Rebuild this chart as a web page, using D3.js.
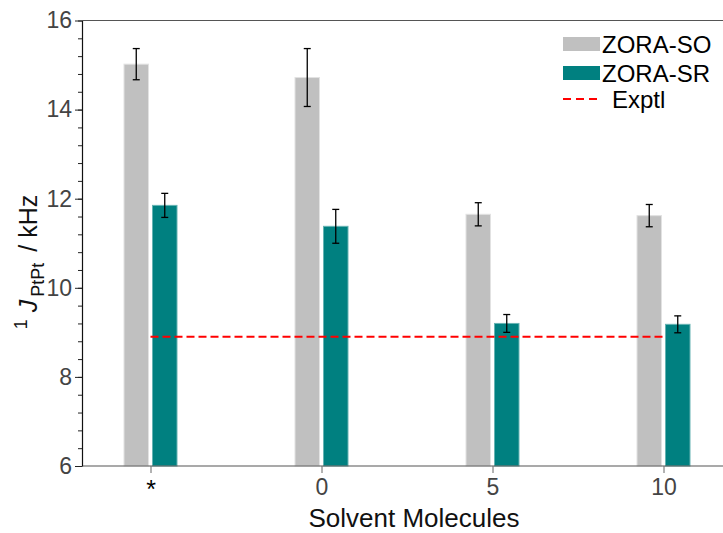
<!DOCTYPE html>
<html>
<head>
<meta charset="utf-8">
<script src="https://cdn.jsdelivr.net/npm/d3@7"></script>
<style>
  body { margin: 0; background: #fff; }
  text { font-family: "Liberation Sans", Arial, sans-serif; }
</style>
</head>
<body>
<div id="chart-area"></div>
<script>
var categories = ["*", "0", "5", "10"];
var series = ["ZORA-SO", "ZORA-SR"];
var soValues = [15.02, 14.72, 11.65, 11.62];
var soErrors = [0.35, 0.65, 0.26, 0.25];
var srValues = [11.85, 11.38, 9.20, 9.18];
var srErrors = [0.27, 0.38, 0.20, 0.19];
var exptl = 8.90;
var yMajor = [6, 8, 10, 12, 14, 16];

var colors = {"ZORA-SO": "#c0c0c0", "ZORA-SR": "#008080"};
var strokes = {"ZORA-SO": "#e2e2e2", "ZORA-SR": "#66b3b3"};

var W = 723, H = 533;
var plotLeft = 82, plotTop = 20.5, plotBottom = 466, plotRight = 723;

var svg = d3.select("#chart-area").append("svg")
    .attr("width", W).attr("height", H);

var x = d3.scalePoint().domain(categories).range([150.5, 663.5]);
var xs = d3.scaleBand().domain(series).range([-26.5, 26.5]).paddingInner(0.14);
var y = d3.scaleLinear().domain([6, 16]).range([plotBottom, plotTop]);

var data = [];
categories.forEach(function(c, i){
    data.push({cat: c, s: "ZORA-SO", v: soValues[i], e: soErrors[i]});
    data.push({cat: c, s: "ZORA-SR", v: srValues[i], e: srErrors[i]});
});

// bars
svg.selectAll("rect.bar").data(data).enter().append("rect")
    .attr("class", "bar")
    .attr("x", function(d){ return x(d.cat) + xs(d.s); })
    .attr("width", xs.bandwidth())
    .attr("y", function(d){ return y(d.v); })
    .attr("height", function(d){ return plotBottom - y(d.v); })
    .attr("fill", function(d){ return colors[d.s]; })
    .attr("stroke", function(d){ return strokes[d.s]; })
    .attr("stroke-width", 1);

// error bars
var eb = svg.selectAll("g.err").data(data).enter().append("g")
    .attr("class", "err")
    .attr("transform", function(d){ return "translate(" + (x(d.cat) + xs(d.s) + xs.bandwidth() / 2) + ",0)"; });
eb.append("line")
    .attr("y1", function(d){ return y(d.v + d.e); })
    .attr("y2", function(d){ return y(d.v - d.e); })
    .attr("stroke", "#000").attr("stroke-width", 1.3);
eb.append("line")
    .attr("x1", -3.5).attr("x2", 3.5)
    .attr("y1", function(d){ return y(d.v + d.e); })
    .attr("y2", function(d){ return y(d.v + d.e); })
    .attr("stroke", "#000").attr("stroke-width", 1.3);
eb.append("line")
    .attr("x1", -3.5).attr("x2", 3.5)
    .attr("y1", function(d){ return y(d.v - d.e); })
    .attr("y2", function(d){ return y(d.v - d.e); })
    .attr("stroke", "#000").attr("stroke-width", 1.3);

// experimental line
svg.append("line")
    .attr("x1", x(categories[0])).attr("x2", x(categories[categories.length - 1]))
    .attr("y1", y(exptl)).attr("y2", y(exptl))
    .attr("stroke", "#ff0000").attr("stroke-width", 2)
    .attr("stroke-dasharray", "8,4");

// frame lines
svg.append("line").attr("x1", plotLeft).attr("x2", plotRight).attr("y1", plotTop).attr("y2", plotTop)
    .attr("stroke", "#555").attr("stroke-width", 1.2);
svg.append("line").attr("x1", plotLeft).attr("x2", plotRight).attr("y1", plotBottom).attr("y2", plotBottom)
    .attr("stroke", "#555").attr("stroke-width", 1.2);

// y axis
var minor = d3.range(0, 26).map(function(i){ return 6 + i * 0.4; });
var yMinorAxis = svg.append("g").attr("transform", "translate(" + plotLeft + ",0)")
    .call(d3.axisLeft(y).tickValues(minor).tickSize(4).tickFormat(""));
yMinorAxis.select(".domain").remove();
yMinorAxis.selectAll("line").attr("stroke", "#222");

var yAxis = svg.append("g").attr("transform", "translate(" + plotLeft + ",0)")
    .call(d3.axisLeft(y).tickValues(yMajor).tickSize(7).tickSizeOuter(0).tickPadding(3));
yAxis.select(".domain").attr("stroke", "#111").attr("stroke-width", 1.2);
yAxis.selectAll("line").attr("stroke", "#222");
yAxis.selectAll("text").attr("font-size", "23px").attr("fill", "#444")
    .attr("font-family", "Liberation Sans, Arial, sans-serif");

// x axis
var xAxis = svg.append("g").attr("transform", "translate(0," + plotBottom + ")")
    .call(d3.axisBottom(x).tickSize(7).tickSizeOuter(0).tickPadding(6));
xAxis.select(".domain").remove();
xAxis.selectAll("line").attr("stroke", "#666");
xAxis.selectAll("text").attr("font-size", "23px").attr("fill", "#444")
    .attr("font-family", "Liberation Sans, Arial, sans-serif")
    .filter(function(d){ return d === "*"; })
    .attr("fill", "#000").attr("font-size", "25px").attr("dy", "0.75em");

// axis titles
svg.append("text")
    .attr("x", 414).attr("y", 527)
    .attr("text-anchor", "middle")
    .attr("font-size", "26px")
    .attr("fill", "#111")
    .text("Solvent Molecules");

var yt = svg.append("text")
    .attr("transform", "translate(37,262) rotate(-90)")
    .attr("text-anchor", "middle")
    .attr("font-size", "25px")
    .attr("fill", "#111");
yt.append("tspan").attr("font-size", "18px").attr("dy", "-10").text("1");
yt.append("tspan").attr("font-style", "italic").attr("dy", "10").attr("dx", "7").text("J");
yt.append("tspan").attr("font-size", "18px").attr("dy", "7").attr("dx", "3").text("PtPt");
yt.append("tspan").attr("dy", "-7").attr("dx", "4").text(" / kHz");

// legend
var legend = svg.append("g");
series.forEach(function(s, i){
    legend.append("rect")
        .attr("x", 563).attr("y", 37 + i * 29)
        .attr("width", 37).attr("height", 14)
        .attr("fill", colors[s]);
    legend.append("text")
        .attr("x", 602).attr("y", 52.5 + i * 29)
        .attr("font-size", "24px").attr("fill", "#000")
        .text(s);
});
legend.append("line")
    .attr("x1", 563).attr("x2", 599)
    .attr("y1", 99).attr("y2", 99)
    .attr("stroke", "#ff0000").attr("stroke-width", 2)
    .attr("stroke-dasharray", "8,5");
legend.append("text")
    .attr("x", 612).attr("y", 108)
    .attr("font-size", "24px").attr("fill", "#000")
    .text("Exptl");
</script>
</body>
</html>
